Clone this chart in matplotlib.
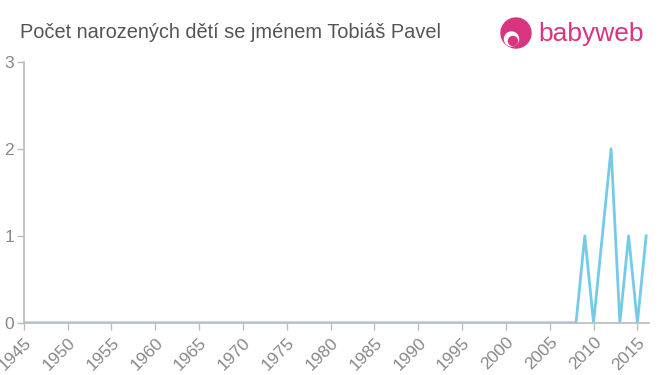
import matplotlib

matplotlib.use("Agg")

import matplotlib.pyplot as plt
from matplotlib.patches import Circle

# data
years = list(range(1945, 2017))
recent_counts = [0, 1, 0, 1, 2, 0, 1, 0, 1]  # 2008..2016
counts = [0] * (len(years) - len(recent_counts)) + recent_counts

x_ticks = list(range(1945, 2020, 5))
y_ticks = [0, 1, 2, 3]

LINE = "#74cbe8"
AXIS = "#bbbbbb"
TEXT = "#888888"
PINK = "#d9347f"

plt.rcParams["font.family"] = ["Liberation Sans", "DejaVu Sans"]

fig = plt.figure(figsize=(6.6, 3.75), dpi=100)
ax = fig.add_axes([0.036, 0.139, 0.947, 0.696])

ax.plot(years, counts, color=LINE, linewidth=2.0)

ax.set_xlim(1945, 2016.3)
ax.set_ylim(0, 3)
ax.set_xticks(x_ticks)
ax.set_yticks(y_ticks)
ax.set_xticklabels([str(t) for t in x_ticks], rotation=45, ha="right",
                   rotation_mode="anchor")

for side in ("top", "right"):
    ax.spines[side].set_visible(False)
for side in ("left", "bottom"):
    ax.spines[side].set_color(AXIS)
    ax.spines[side].set_linewidth(1.2)
ax.tick_params(axis="both", colors=AXIS, labelcolor=TEXT, labelsize=12.5,
               length=5, width=1)
ax.tick_params(axis="y", pad=2)

fig.text(0.03, 0.912, "Počet narozených dětí se jménem Tobiáš Pavel",
         fontsize=14.4, color="#555555", ha="left", va="center")

# babyweb logo (inch coordinates so the circle stays round)
inch = fig.dpi_scale_trans
fig.patches.append(Circle((5.16, 3.42), 0.15, transform=inch, color=PINK))
fig.patches.append(Circle((5.115, 3.36), 0.07, transform=inch, color="white"))
fig.patches.append(Circle((5.13, 3.34), 0.045, transform=inch, color=PINK))
fig.text(0.816, 0.908, "babyweb", fontsize=19, color=PINK,
         ha="left", va="center")

fig.savefig("out.png", dpi=100)
